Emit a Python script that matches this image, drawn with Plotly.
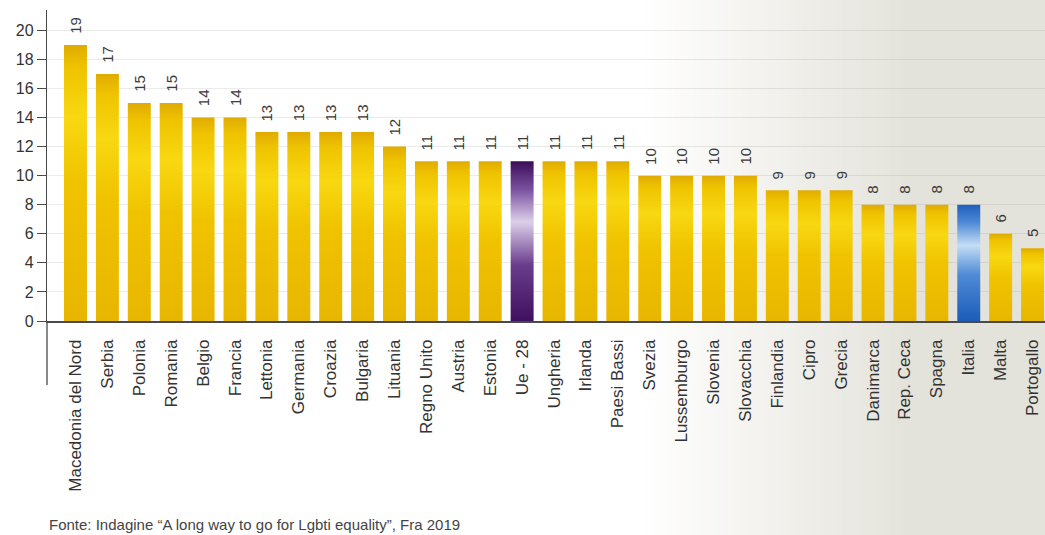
import plotly.graph_objects as go

# Quota di persone LGBTI che hanno subito aggressioni fisiche o sessuali (%)
paesi = [
    "Macedonia del Nord", "Serbia", "Polonia", "Romania", "Belgio", "Francia",
    "Lettonia", "Germania", "Croazia", "Bulgaria", "Lituania", "Regno Unito",
    "Austria", "Estonia", "Ue - 28", "Ungheria", "Irlanda", "Paesi Bassi",
    "Svezia", "Lussemburgo", "Slovenia", "Slovacchia", "Finlandia", "Cipro",
    "Grecia", "Danimarca", "Rep. Ceca", "Spagna", "Italia", "Malta", "Portogallo",
]
valori = [19, 17, 15, 15, 14, 14, 13, 13, 13, 13, 12, 11, 11, 11, 11, 11, 11, 11,
          10, 10, 10, 10, 9, 9, 9, 8, 8, 8, 8, 6, 5]
y_ticks = [0, 2, 4, 6, 8, 10, 12, 14, 16, 18, 20]

# sfumature verticali (dal basso verso l'alto)
oro = [[0, "#e8b600"], [0.5, "#f0c300"], [0.74, "#f8d812"], [0.92, "#efc300"], [1, "#e0ab00"]]
viola = [[0, "#3f1060"], [0.35, "#6a3c8c"], [0.62, "#dcd0ea"], [0.82, "#7c52a0"], [1, "#3a0c58"]]
blu = [[0, "#1c5cb8"], [0.4, "#4f8bd6"], [0.65, "#c4def6"], [0.85, "#4d88d4"], [1, "#1f5fbe"]]

MEZZA = 0.36
fig = go.Figure()

for i, (p, v) in enumerate(zip(paesi, valori)):
    scala = viola if p == "Ue - 28" else blu if p == "Italia" else oro
    fig.add_trace(go.Scatter(
        x=[i - MEZZA, i + MEZZA, i + MEZZA, i - MEZZA, i - MEZZA],
        y=[0, 0, v, v, 0],
        mode="lines", fill="toself", line=dict(width=0),
        fillgradient=dict(type="vertical", colorscale=scala),
        hoverinfo="skip", showlegend=False,
    ))
    fig.add_annotation(
        x=i, y=v, text=str(v), textangle=-90, showarrow=False,
        xanchor="center", yanchor="bottom", yshift=9,
        font=dict(family="Liberation Sans, Arial", size=15, color="#3a3a3a"),
    )

# fondo: carta bianca che vira al grigio-beige verso destra
W, L = 998.0, 47.0
n_strisce = 40
x_start, x_end = 640, 910
c0, c1 = (255, 255, 255), (228, 227, 219)
for k in range(n_strisce):
    a = x_start + (x_end - x_start) * k / n_strisce
    b = x_start + (x_end - x_start) * (k + 1) / n_strisce + 1
    t = (k + 0.5) / n_strisce
    col = tuple(round(c0[j] + (c1[j] - c0[j]) * t) for j in range(3))
    fig.add_shape(type="rect", xref="paper", yref="paper",
                  x0=(a - L) / W, x1=(b - L) / W, y0=-0.7, y1=1.05,
                  fillcolor="rgb(%d,%d,%d)" % col, line=dict(width=0), layer="below")
fig.add_shape(type="rect", xref="paper", yref="paper",
              x0=(x_end - L) / W, x1=1.0, y0=-0.7, y1=1.05,
              fillcolor="rgb(%d,%d,%d)" % c1, line=dict(width=0), layer="below")

# prolungamento dell'asse verticale sotto lo zero
fig.add_shape(type="line", xref="paper", yref="paper", x0=0, x1=0, y0=0, y1=-0.206,
              line=dict(color="#4a4a4a", width=1.3))

fig.add_annotation(
    xref="paper", yref="paper", x=0, y=-0.655, xanchor="left", yanchor="middle",
    text="Fonte: Indagine \u201cA long way to go for Lgbti equality\u201d, Fra 2019",
    showarrow=False, font=dict(family="Liberation Sans, Arial", size=15, color="#444"),
)

fig.update_layout(
    width=1045, height=535,
    margin=dict(l=47, r=0, t=10, b=214),
    paper_bgcolor="white", plot_bgcolor="rgba(0,0,0,0)",
    font=dict(family="Liberation Sans, Arial", color="#333"),
    xaxis=dict(
        range=[-0.893, 30.39], tickmode="array",
        tickvals=list(range(len(paesi))), ticktext=paesi,
        tickangle=-90, ticks="", ticklabelstandoff=10,
        tickfont=dict(size=17, color="#333"),
        showgrid=False, zeroline=False,
        showline=True, linecolor="#4a4a4a", linewidth=1.5,
    ),
    yaxis=dict(
        range=[0, 21.4], tickmode="array", tickvals=y_ticks,
        ticks="outside", ticklen=9, tickcolor="#4a4a4a", tickwidth=1,
        tickfont=dict(size=16, color="#333"),
        showgrid=True, gridcolor="rgba(150,150,140,0.2)", gridwidth=1,
        zeroline=False, showline=True, linecolor="#4a4a4a", linewidth=1.3,
    ),
)

fig.write_html("out.html")
